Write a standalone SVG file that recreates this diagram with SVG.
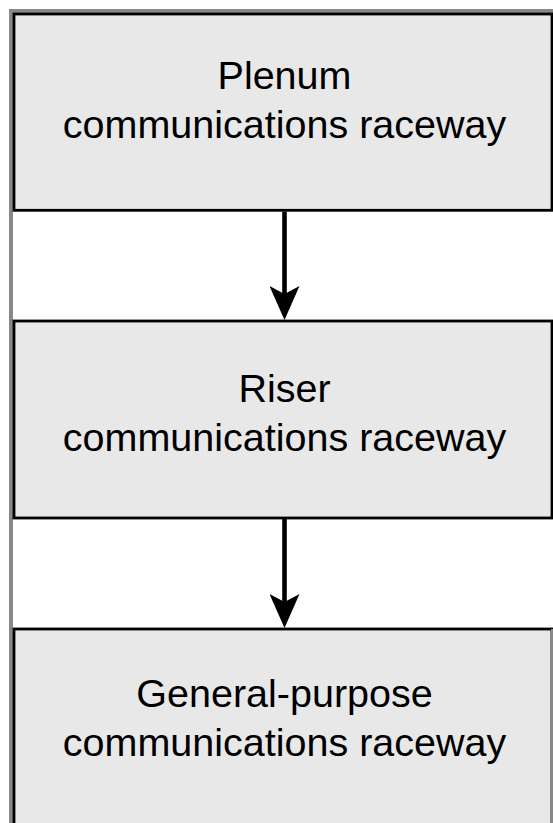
<svg xmlns="http://www.w3.org/2000/svg" width="553" height="823" viewBox="0 0 553 823">
  <style>
    .box { fill: #e8e8e8; stroke: #000; stroke-width: 2.8; }
    .label { font-family: "Liberation Sans", Arial, Helvetica, sans-serif; font-size: 39.5px; fill: #000; text-anchor: middle; }
    .flow { stroke: #000; stroke-width: 4.6; fill: none; marker-end: url(#head); }
  </style>
  <defs>
    <marker id="head" markerUnits="userSpaceOnUse" viewBox="0 0 34 30" markerWidth="34" markerHeight="30" refX="16" refY="15" orient="auto">
      <path d="M0,0 L34,15 L0,30 L8,15 Z" fill="#000"/>
    </marker>
  </defs>

  <rect x="0" y="0" width="553" height="823" fill="#ffffff"/>
  <!-- outer frame -->
  <rect x="11" y="11" width="600" height="900" fill="none" stroke="#888" stroke-width="4"/>

  <g id="plenum">
    <rect class="box" x="14" y="14" width="538" height="196.3"/>
    <text class="label" x="284.5" y="89.3">Plenum</text>
    <text class="label" x="284.5" y="138.3">communications raceway</text>
  </g>

  <g id="riser">
    <rect class="box" x="14" y="321" width="538" height="197"/>
    <text class="label" x="284.5" y="401.7">Riser</text>
    <text class="label" x="284.5" y="450.7">communications raceway</text>
  </g>

  <g id="general-purpose">
    <rect class="box" x="14" y="629" width="538" height="197"/>
    <line x1="552" y1="629" x2="552" y2="823" stroke="#888" stroke-width="2.4"/>
    <text class="label" x="284.5" y="706.7">General-purpose</text>
    <text class="label" x="284.5" y="755.7">communications raceway</text>
  </g>

  <g id="connectors">
    <line class="flow" x1="284.5" y1="211.5" x2="284.5" y2="302"/>
    <line class="flow" x1="284.5" y1="519" x2="284.5" y2="610"/>
  </g>
</svg>
